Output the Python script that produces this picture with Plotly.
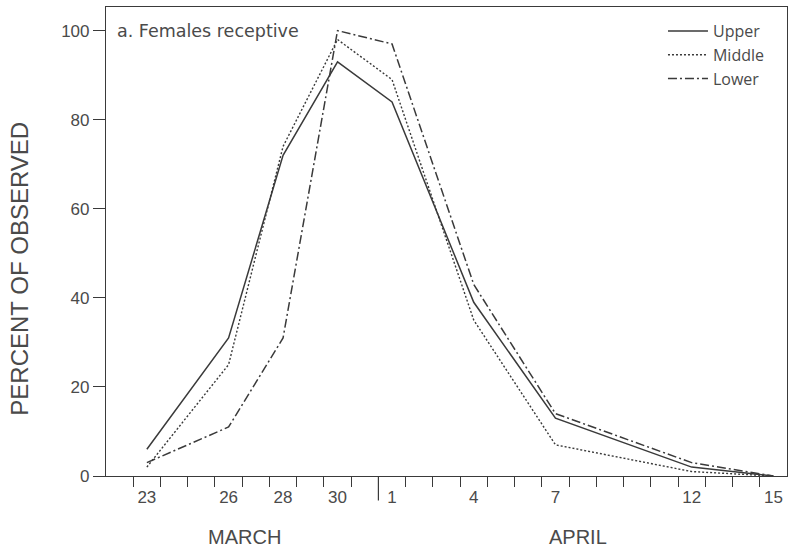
import plotly.graph_objects as go

# Day index: March 22 = 22 ... March 31 = 31, April 1 = 32 ... April 15 = 46
days = [23, 26, 28, 30, 32, 35, 38, 43, 46]
upper = [6, 31, 72, 93, 84, 39, 13, 2, 0]
middle = [2, 25, 74, 98, 89, 35, 7, 1, 0]
lower = [3, 11, 31, 100, 97, 43, 14, 3, 0]

tick_days = [23, 26, 28, 30, 32, 35, 38, 43, 46]
tick_labels = ["23", "26", "28", "30", "1", "4", "7", "12", "15"]
day_bounds = [d + 0.5 for d in range(22, 46)]
month_break = 31.5
months = ["MARCH", "APRIL"]
y_ticks = [0, 20, 40, 60, 80, 100]

ink = "#3a3a3a"
txt = "#4a4a4a"

fig = go.Figure()
fig.add_trace(go.Scatter(x=days, y=upper, mode="lines", name="Upper",
                         line=dict(color=ink, width=1.5, dash="solid")))
fig.add_trace(go.Scatter(x=days, y=middle, mode="lines", name="Middle",
                         line=dict(color=ink, width=1.4, dash="2px,2px")))
fig.add_trace(go.Scatter(x=days, y=lower, mode="lines", name="Lower",
                         line=dict(color=ink, width=1.5, dash="9px,3px,2px,3px")))

fig.update_layout(
    width=789, height=554,
    margin=dict(l=106, r=2, t=7, b=78),
    paper_bgcolor="white", plot_bgcolor="white",
    showlegend=True,
    legend=dict(x=0.975, y=0.985, xanchor="right", yanchor="top",
                bgcolor="rgba(0,0,0,0)", font=dict(family="Open Sans", size=16, color=txt),
                tracegroupgap=0, itemwidth=40),
    font=dict(family="Liberation Sans", color=txt),
)

fig.update_xaxes(
    range=[21.5, 46.5], showgrid=False, zeroline=False,
    showline=True, mirror=True, linecolor=ink, linewidth=1.2,
    tickmode="array", tickvals=tick_days, ticktext=tick_labels,
    ticks="outside", ticklen=5, tickcolor="rgba(0,0,0,0)",
    tickfont=dict(family="Liberation Sans", size=17, color=txt),
    minor=dict(tickmode="array", tickvals=day_bounds, ticks="outside",
               ticklen=10, tickcolor=ink, tickwidth=1.2, showgrid=False),
)
fig.update_yaxes(
    range=[0, 105.3], showgrid=False, zeroline=False,
    showline=True, mirror=True, linecolor=ink, linewidth=1.2,
    tickmode="array", tickvals=y_ticks,
    ticks="outside", ticklen=12, tickcolor=ink, tickwidth=1.2,
    tickfont=dict(family="Liberation Sans", size=17, color=txt),
)

# Month separator tick
fig.add_shape(type="line", xref="x", yref="paper", x0=month_break, x1=month_break,
              y0=0, y1=-0.052, line=dict(color=ink, width=1.2))

fig.add_annotation(text=months[0], xref="paper", yref="paper", x=0.204, y=-0.131,
                   xanchor="center", yanchor="middle", showarrow=False,
                   font=dict(family="Liberation Sans", size=20, color=txt))
fig.add_annotation(text=months[1], xref="paper", yref="paper", x=0.693, y=-0.131,
                   xanchor="center", yanchor="middle", showarrow=False,
                   font=dict(family="Liberation Sans", size=20, color=txt))
fig.add_annotation(text="PERCENT OF OBSERVED", xref="paper", yref="paper", x=-0.127, y=0.441,
                   xanchor="center", yanchor="middle", textangle=-90, showarrow=False,
                   font=dict(family="Liberation Sans", size=24, color=txt))
fig.add_annotation(text="a. Females receptive", xref="paper", yref="paper", x=0.013, y=0.949,
                   xanchor="left", yanchor="middle", showarrow=False,
                   font=dict(family="DejaVu Sans", size=17.5, color=txt))

fig.write_html("out.html")
